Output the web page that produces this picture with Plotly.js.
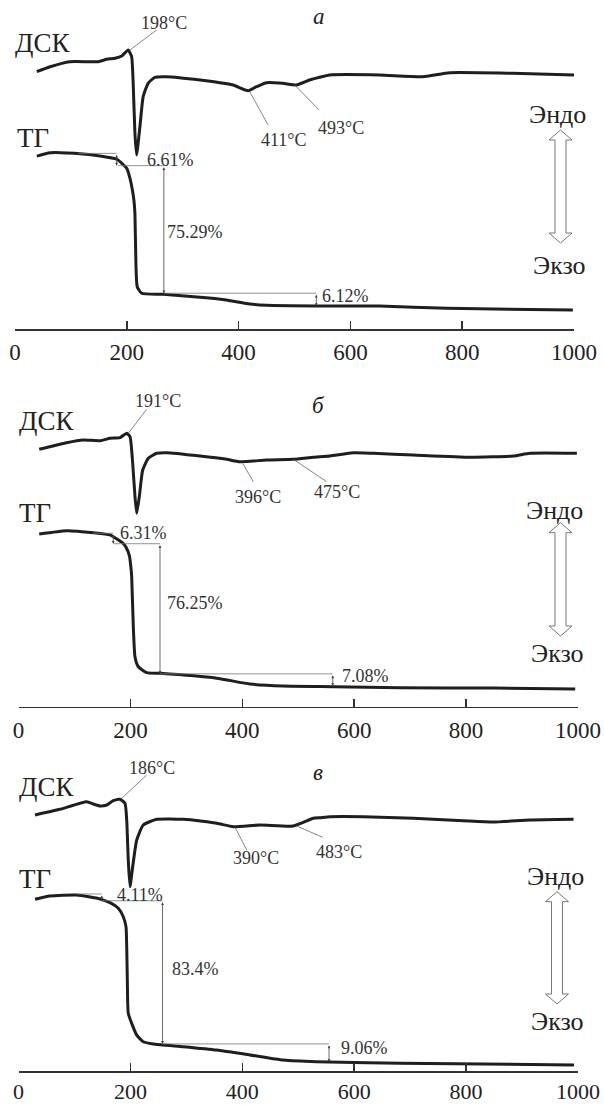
<!DOCTYPE html>
<html><head><meta charset="utf-8">
<script src="https://cdn.plot.ly/plotly-3.0.1.min.js"></script>
<style>html,body{margin:0;padding:0;background:#fff}#chart{width:604px;height:1105px}</style>
</head><body><div id="chart"></div>
<script>
// ---------- DATA (temperature, °C) ----------
const TICKS = [0, 200, 400, 600, 800, 1000];
const panelLetters = ['а', 'б', 'в'];

// Panel а
const T_dsc_a = [39,63,98,149,164,179,191,202.5,208.6,211.4,214.5,217.5,223.4,229.3,238.2,250.2,271,331,390,417,432,450,479,503.5,527,545,563,652,729,778,890,1000];
const dsc_a   = [1.3,6.3,11.3,11.3,13.7,14.7,17,23,16.3,-10,-60,-82,-54,-23.7,-10.3,-4.3,-3.7,-7,-12,-17.7,-13.7,-9.7,-10.3,-12,-7,-4.3,-2,-2,-3.7,0.3,-0.3,-2];
const T_tg_a  = [39,63,122,152,182,200,205.5,210,212.7,214.5,216.3,218.6,226.5,265,331,378,420,450,539,652,772,998];
const tg_a    = [98.0,100,99.2,98.0,96.1,90.7,85.0,77.9,71.9,64.2,34.5,20.5,16.6,16.0,14.2,12.6,10.2,9.4,9.0,9.0,7.7,6.6];
const peaks_a = ['198°C','411°C','493°C'];
const steps_a = ['6.61%','75.29%','6.12%'];

// Panel б
const T_dsc_b = [37,86,116,146,163.5,181.4,193.4,199.3,204.1,208.2,211.3,215.9,222,232,247,265,324.4,372,396,443.6,491.2,527,556.7,598.4,634.2,705.6,807,884.4,914.2,998];
const dsc_b   = [4,10.6,13.3,12.6,15,15.6,20,16.6,-10,-43.4,-60,-43.4,-16.7,-5,0,0.6,-2.7,-6,-8.4,-6.7,-6,-4,-2.7,0.6,0,-1.7,-4,-2.7,0,0];
const T_tg_b  = [37,86,134,163.5,187,193,198.4,201.4,202.3,205.2,208.2,214.1,229.1,252.9,354.2,413.8,473.3,562.6,682.1,850,995];
const tg_b    = [98.0,100,98.8,97.5,92.5,89.8,85.0,76.7,72.8,43.2,25.4,19.5,16.0,15.6,12.7,9.3,8.1,7.7,7.1,6.9,6.4];
const peaks_b = ['191°C','396°C','475°C'];
const steps_b = ['6.31%','76.25%','7.08%'];

// Panel в
const T_dsc_c = [29.5,74,122,133.7,145.7,157.6,169.4,181.4,190.3,193.4,196.2,199.3,204.1,211.3,223,247,294.5,354.2,384,431.6,491.2,527,539,557,616,705.6,795,848.6,914.2,992];
const dsc_c   = [3,8.7,16.3,14,12,13,17.3,18.7,14.7,-2,-42,-68.7,-48.7,-22,-7,-1.3,-1.3,-5.3,-8.7,-7,-8,-0.3,0.3,1.3,1.3,-0.3,-2.7,-4,-2,-1.3];
const T_tg_c  = [29.5,56,104,146,163.5,178.4,187.3,192.1,193.4,194.5,196.2,202.3,211.3,223,240.9,294.5,354.2,413.8,473.3,533,622.3,682.1,993];
const tg_c    = [97.5,99.4,100,97.6,95.5,92.2,87.2,81.4,69.6,50.0,30.4,24.5,17.6,13.7,12.4,10.8,8.8,5.9,2.9,1.9,1.35,1.0,0.0];
const peaks_c = ['186°C','390°C','483°C'];
const steps_c = ['4.11%','83.4%','9.06%'];

// ---------- LAYOUT ----------
const W = 604, H = 1105;
const SERIF = 'Liberation Serif, Times New Roman, serif';
const fx = p => p / W, fy = p => 1 - p / H;
const INK = '#1e1e1e';

const panels = [
 {xa:'x', ya:'y', yb:'y2', xl:15, xr:574, bot:329, top:0, dscRef:73, tgRef:152.7, k:1.685, standoff:2, tfs:23,
  Td:T_dsc_a, d:dsc_a, Tt:T_tg_a, t:tg_a, peaks:peaks_a, steps:steps_a,
  letter:[319,17], dsk:[13,43], tgl:[15,138], endo:[557,115], ekzo:[559,265], arr:[560.5,130,243],
  peakPos:[[164.5,23,205.5,23,253.3,43],[284,140,420,-18.7,452.7,-52],[340.5,128,500.4,-12,543.9,-37]],
  lines:[[113,181.8,99.6],[184.6,266.3,92.3],[266.3,539,16.6]],
  arrows:[[181.8,99.6,92.3],[266.3,92.3,16.6],[539,16.6,9.0]],
  labels:[[232.4,95.7],[268,53.1],[545,15.0]]},
 {xa:'x2', ya:'y3', yb:'y4', xl:18.5, xr:578, bot:706.7, top:370, dscRef:453.3, tgRef:530.7, k:1.69, standoff:2, tfs:23,
  Td:T_dsc_b, d:dsc_b, Tt:T_tg_b, t:tg_b, peaks:peaks_b, steps:steps_b,
  letter:[318,405], dsk:[16.7,421], tgl:[16.7,513.3], endo:[554.5,510], ekzo:[557,653], arr:[560.5,522.7,636],
  peakPos:[[157.5,400.7,196.2,20,229.1,44],[258.3,496.7,400.7,-10,419.7,-28.4],[336.7,491.7,491.2,-6,550.8,-28.4]],
  lines:[[133.7,169.4,98.5],[169.4,252.9,92.3],[252.9,561.6,15.3]],
  arrows:[[169.4,98.5,92.3],[252.9,92.3,15.3],[561.6,15.3,8.1]],
  labels:[[178.4,98.8],[261.8,57.0],[574.7,14.0]]},
 {xa:'x3', ya:'y5', yb:'y6', xl:18.5, xr:578, bot:1071, top:740, dscRef:818, tgRef:895, k:1.70, standoff:0, tfs:22,
  Td:T_dsc_c, d:dsc_c, Tt:T_tg_c, t:tg_c, peaks:peaks_c, steps:steps_c,
  letter:[318,772.7], dsk:[16.7,786.7], tgl:[16.7,879.3], endo:[555,876], ekzo:[557,1021], arr:[557,891.7,1004],
  peakPos:[[151.7,768.3,184.4,19.7,229.1,43],[255.8,858.3,387,-9.3,407.9,-32],[339.2,851.7,497.2,-8,543.7,-19.3]],
  lines:[[102.8,148.7,100.6],[148.7,257.4,96.6],[257.4,555,12.4]],
  arrows:[[148.7,100.6,97.1],[257.4,96.6,12.4],[555,12.4,1.9]],
  labels:[[172.5,100],[270.8,56.3],[573.4,9.8]]}
];

const traces = [], shapes = [], annotations = [];
const layout = {width:W, height:H, margin:{l:0,r:0,t:0,b:0}, paper_bgcolor:'#fff', plot_bgcolor:'rgba(0,0,0,0)',
  showlegend:false, font:{family:SERIF, color:'#222'}};

panels.forEach((p, i) => {
  const xk = 'xaxis' + (i ? i + 1 : ''), yk = 'yaxis' + (2*i ? 2*i + 1 : ''), yk2 = 'yaxis' + (2*i + 2);
  const dom = [fy(p.bot), fy(p.top)];
  layout[xk] = {domain:[fx(p.xl), fx(p.xr)], range:[0,1000], anchor:p.ya, tickvals:TICKS, ticktext:TICKS.map(String),
    showline:true, linecolor:'#333', linewidth:1.5, ticks:'inside', ticklen:8, tickwidth:1.5, tickcolor:'#333',
    showgrid:false, zeroline:false, tickfont:{family:SERIF, size:p.tfs, color:'#222'}, ticklabelstandoff:p.standoff, fixedrange:true};
  layout[yk] = {domain:dom, range:[p.dscRef - p.bot, p.dscRef - p.top], visible:false, fixedrange:true, anchor:p.xa};
  layout[yk2] = {overlaying:p.ya, range:[100 - (p.bot - p.tgRef)/p.k, 100 - (p.top - p.tgRef)/p.k], visible:false, fixedrange:true, anchor:p.xa};

  traces.push({x:p.Td, y:p.d, xaxis:p.xa, yaxis:p.ya, mode:'lines', line:{color:INK, width:3, shape:'spline', smoothing:0.5}, hoverinfo:'skip'});
  traces.push({x:p.Tt, y:p.t, xaxis:p.xa, yaxis:p.yb, mode:'lines', line:{color:INK, width:3, shape:'spline', smoothing:0.5}, hoverinfo:'skip'});

  const txt = (t, px, py, size, opts={}) => annotations.push(Object.assign({text:t, x:fx(px), y:fy(py), xref:'paper', yref:'paper',
    showarrow:false, font:{family:SERIF, size:size, color:'#222'}, xanchor:'center', yanchor:'middle'}, opts));
  txt('<i>' + panelLetters[i] + '</i>', p.letter[0], p.letter[1], 23);
  txt('ДСК', p.dsk[0], p.dsk[1], 27, {xanchor:'left'});
  txt('ТГ', p.tgl[0], p.tgl[1], 27, {xanchor:'left'});
  txt('Эндо', p.endo[0], p.endo[1], 26);
  txt('Экзо', p.ekzo[0], p.ekzo[1], 26);

  // hollow double arrow
  const [cx, yt, yb] = p.arr, hh = 10, hw = 11.5, sw = 5.5;
  const pts = [[cx,yt],[cx+hw,yt+hh],[cx+sw,yt+hh],[cx+sw,yb-hh],[cx+hw,yb-hh],[cx,yb],[cx-hw,yb-hh],[cx-sw,yb-hh],[cx-sw,yt+hh],[cx-hw,yt+hh]];
  shapes.push({type:'path', xref:'paper', yref:'paper', path:'M' + pts.map(q => fx(q[0]).toFixed(5) + ',' + fy(q[1]).toFixed(5)).join(' L') + ' Z',
    line:{color:'#777', width:1}, fillcolor:'#fff'});

  // peak labels and leader lines
  p.peakPos.forEach((q, j) => {
    txt(p.peaks[j], q[0], q[1], 18, {font:{family:SERIF, size:18, color:'#333'}});
    shapes.push({type:'line', xref:p.xa, yref:p.ya, x0:q[2], y0:q[3], x1:q[4], y1:q[5], line:{color:'#666', width:0.8}});
  });

  // mass-loss steps
  p.lines.forEach(l => shapes.push({type:'line', xref:p.xa, yref:p.yb, x0:l[0], x1:l[1], y0:l[2], y1:l[2], line:{color:'#777', width:0.8}}));
  p.arrows.forEach(a => annotations.push({xref:p.xa, yref:p.yb, axref:p.xa, ayref:p.yb, x:a[0], y:a[2], ax:a[0], ay:a[1], text:'',
    showarrow:true, arrowhead:2, arrowside:'end+start', arrowsize:0.7, arrowwidth:0.8, arrowcolor:'#444', standoff:0, startstandoff:0}));
  p.labels.forEach((l, j) => annotations.push({xref:p.xa, yref:p.yb, x:l[0], y:l[1], text:p.steps[j], showarrow:false,
    xanchor:'left', yanchor:'middle', font:{family:SERIF, size:18, color:'#333'}}));
});

layout.shapes = shapes;
layout.annotations = annotations;
Plotly.newPlot('chart', traces, layout, {staticPlot:true, displayModeBar:false});
</script></body></html>
